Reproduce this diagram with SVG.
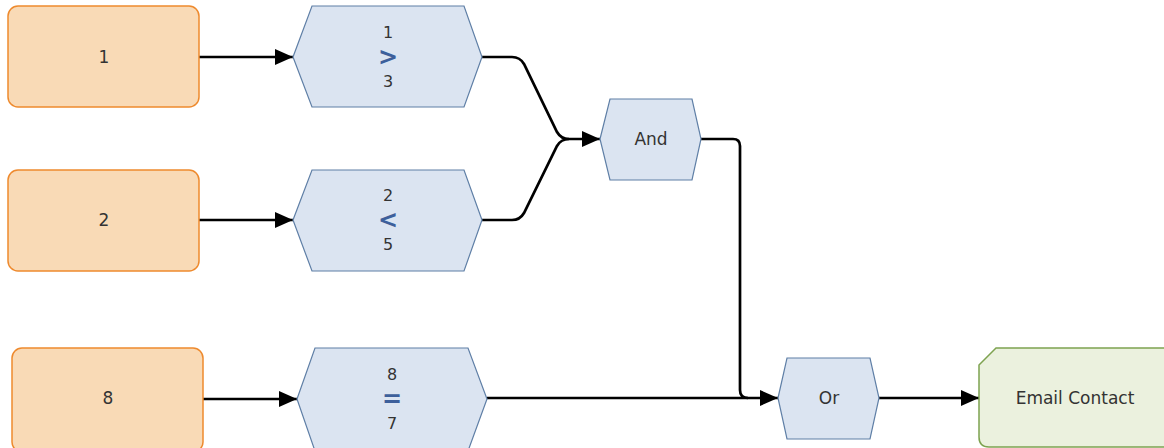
<svg xmlns="http://www.w3.org/2000/svg" width="1164" height="448" viewBox="0 0 1164 448">
<defs>
<marker id="a" viewBox="0 0 18 16" refX="18" refY="8" markerWidth="18" markerHeight="16" markerUnits="userSpaceOnUse" orient="auto">
<path d="M0,0 L18,8 L0,16 Z" fill="#000"/>
</marker>
<style>
.src{fill:#f9dab6;stroke:#ee8a2e;stroke-width:1.5}
.hex{fill:#dbe4f1;stroke:#5f7fa6;stroke-width:1.2}
.out{fill:#ebf1de;stroke:#7ea350;stroke-width:1.5}
.t{font-family:"DejaVu Sans",Verdana,sans-serif;font-size:17px;fill:#333;text-anchor:middle;dominant-baseline:central}
.d{font-size:16px}
.op{font-family:"DejaVu Sans",Verdana,sans-serif;font-size:24px;font-weight:bold;fill:#3d5f9b;text-anchor:middle;dominant-baseline:central}
.c{fill:none;stroke:#000;stroke-width:2.7}
</style>
</defs>
<g id="connectors">
<path class="c" d="M199,57 L293,57" marker-end="url(#a)"/>
<path class="c" d="M199,220 L293,220" marker-end="url(#a)"/>
<path class="c" d="M203,399 L297,399" marker-end="url(#a)"/>
<path class="c" d="M482,57 L512,57 Q520,57 524,64 L557,132 Q561,139 569,139 L600,139" marker-end="url(#a)"/>
<path class="c" d="M482,220 L512,220 Q520,220 524,213 L557,146 Q561,139 569,139"/>
<path class="c" d="M701,139 L733,139 Q740,139 740,146 L740,390 Q740,398 748,398"/>
<path class="c" d="M487,398 L778,398" marker-end="url(#a)"/>
<path class="c" d="M879,398 L979,398" marker-end="url(#a)"/>
</g>
<g id="n1">
<rect class="src" x="8" y="6" width="191" height="101" rx="10"/>
<text class="t" x="104" y="57">1</text>
</g>
<g id="n2">
<rect class="src" x="8" y="170" width="191" height="101" rx="10"/>
<text class="t" x="104" y="220">2</text>
</g>
<g id="n8">
<rect class="src" x="12" y="348" width="191" height="104" rx="10"/>
<text class="t" x="108" y="398">8</text>
</g>
<g id="gt">
<polygon class="hex" points="293,57 312,6 464,6 482,57 464,107 312,107"/>
<text class="t d" x="388" y="32">1</text>
<text class="op" x="388" y="57">&gt;</text>
<text class="t d" x="388" y="81">3</text>
</g>
<g id="lt">
<polygon class="hex" points="293,220 312,170 464,170 482,220 464,271 312,271"/>
<text class="t d" x="388" y="195">2</text>
<text class="op" x="388" y="220">&lt;</text>
<text class="t d" x="388" y="244">5</text>
</g>
<g id="eq">
<polygon class="hex" points="297,399 315,348 468,348 487,399 468,451 315,451"/>
<text class="t d" x="392" y="374">8</text>
<text class="op" x="392" y="399">=</text>
<text class="t d" x="392" y="423">7</text>
</g>
<g id="and">
<polygon class="hex" points="600,139 610,99 692,99 701,139 692,180 610,180"/>
<text class="t" x="651" y="139">And</text>
</g>
<g id="or">
<polygon class="hex" points="778,398 787,358 870,358 879,398 870,439 787,439"/>
<text class="t" x="829" y="398">Or</text>
</g>
<g id="email">
<path class="out" d="M979,365 L996,348 L1172,348 L1172,447 L989,447 Q979,447 979,437 Z"/>
<text class="t" x="1075" y="398">Email Contact</text>
</g>
</svg>
